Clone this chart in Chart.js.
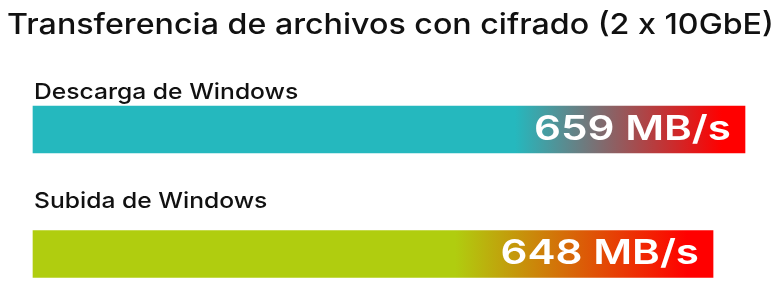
<!DOCTYPE html>
<html>
<head>
<meta charset="utf-8">
<script src="https://cdn.jsdelivr.net/npm/chart.js@4"></script>
<style>
  html, body { margin: 0; padding: 0; background: #fff; }
  #wrap { width: 772px; height: 303px; position: relative; }
</style>
</head>
<body>
<div id="wrap"><canvas id="myChart"></canvas></div>
<script>
const titleText = 'Transferencia de archivos con cifrado (2 x 10GbE)';
const categories = ['Descarga de Windows', 'Subida de Windows'];
const speeds = [659, 648];
const unit = 'MB/s';
const scaleMin = 414;
const scaleMax = 659;

const baseColors = ['#25b8be', '#b0cd0f'];
const fadeLength = [230, 258];
const labelGap = [7.5, 23];
const fontFamily = 'Inter, "DejaVu Sans", sans-serif';

// Montserrat-like wide lettering: draw Inter stretched horizontally
function wideText(ctx, text, x, y, font, align, stretch) {
  ctx.save();
  ctx.translate(x, y);
  ctx.scale(stretch, 1);
  ctx.font = font;
  ctx.textAlign = align;
  ctx.textBaseline = 'alphabetic';
  ctx.fillText(text, 0, 0);
  ctx.restore();
}

const barLabels = {
  id: 'barLabels',
  afterDatasetsDraw(chart) {
    const { ctx } = chart;
    const meta = chart.getDatasetMeta(0);
    ctx.save();
    ctx.fillStyle = '#111';
    wideText(ctx, titleText, chart.width / 2 + 4.5, 34, '500 29px ' + fontFamily, 'center', 1.11);
    meta.data.forEach((bar, i) => {
      const top = bar.y - bar.height / 2;
      ctx.fillStyle = '#111';
      wideText(ctx, categories[i], bar.base + 1, top - labelGap[i], '500 22px ' + fontFamily, 'left', 1.12);
      ctx.fillStyle = '#fff';
      wideText(ctx, `${speeds[i]} ${unit}`, bar.x - 14, bar.y + 10, '600 34px ' + fontFamily, 'right', 1.24);
    });
    ctx.restore();
  },
};

const ctx = document.getElementById('myChart').getContext('2d');
const chart = new Chart(ctx, {
  type: 'bar',
  data: {
    labels: categories,
    datasets: [{
      data: speeds,
      base: scaleMin,
      barThickness: 47,
      clip: false,
      borderWidth: 0,
      backgroundColor: (c) => {
        const i = c.dataIndex;
        const ch = c.chart;
        if (!ch.chartArea || !ch.scales.x) return baseColors[i];
        const end = ch.scales.x.getPixelForValue(c.raw);
        const g = ch.ctx.createLinearGradient(end - fadeLength[i], 0, end, 0);
        g.addColorStop(0, baseColors[i]);
        g.addColorStop(0.9, '#ff0000');
        g.addColorStop(1, '#ff0000');
        return g;
      },
    }],
  },
  options: {
    indexAxis: 'y',
    responsive: true,
    maintainAspectRatio: false,
    animation: false,
    layout: { padding: { left: 33, right: 27, top: 129.5, bottom: 49 } },
    scales: {
      x: { display: false, min: scaleMin, max: scaleMax },
      y: { display: false, offset: false },
    },
    plugins: {
      legend: { display: false },
      tooltip: { enabled: false },
      title: { display: false },
    },
  },
  plugins: [barLabels],
});
</script>
</body>
</html>
